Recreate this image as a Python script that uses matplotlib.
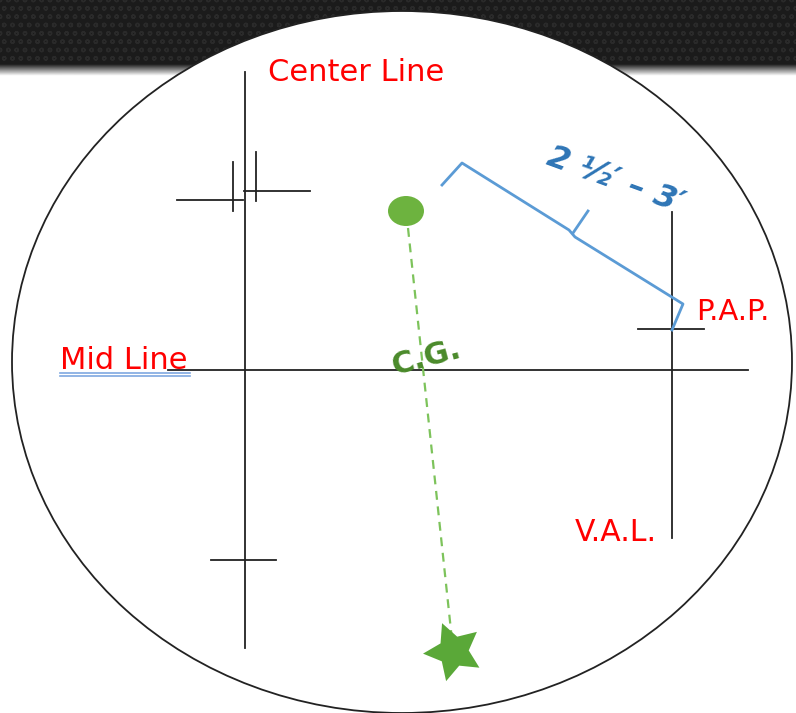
import numpy as np
import matplotlib.pyplot as plt
from matplotlib.patches import Ellipse, Rectangle

# Rozmiar obrazka w pikselach
W, H = 796, 713

# Okrąg (elipsa) celownika: środek, szerokość, wysokość
ring = (402, 362, 780, 702)

# Linie czarne: (x0, y0, x1, y1)
black_lines = [
    (245, 72, 245, 648),    # Center Line
    (168, 370, 748, 370),   # Mid Line
    (177, 200, 243, 200),
    (244, 191, 310, 191),
    (233, 162, 233, 211),
    (256, 152, 256, 201),
    (211, 560, 276, 560),
    (672, 212, 672, 538),   # V.A.L.
    (638, 329, 704, 329),   # P.A.P.
]

# Klamra 2 1/2' - 3'
brace_x = [442, 462, 569, 575, 683, 672]
brace_y = [185, 163, 230, 237, 304, 330]
tooth_x = [573, 588]
tooth_y = [233, 211]

# Punkt, linia środka ciężkości i gwiazda
dot = (406, 211)
cg_x = [408, 452]
cg_y = [228, 640]
star = (453, 651)

fig = plt.figure(figsize=(W / 100, H / 100), dpi=100)
ax = fig.add_axes([0, 0, 1, 1])
ax.set_xlim(0, W)
ax.set_ylim(H, 0)
ax.axis("off")

# Ciemny pasek u góry
ax.add_patch(Rectangle((0, 0), W, 66, facecolor="#1b1b1b", edgecolor="#2a2a2a",
                       hatch="oo", linewidth=0, zorder=0))
grad = np.linspace(0.12, 1.0, 20).reshape(-1, 1)
ax.imshow(grad, cmap="gray", vmin=0, vmax=1, extent=(0, W, 76, 64),
          aspect="auto", zorder=0.5)

ax.add_patch(Ellipse(ring[:2], ring[2], ring[3], facecolor="white",
                     edgecolor="#222222", linewidth=1.3, zorder=1))

for x0, y0, x1, y1 in black_lines:
    ax.plot([x0, x1], [y0, y1], color="#222222", lw=1.3, zorder=2)

ax.plot(brace_x, brace_y, color="#5b9bd5", lw=2, zorder=3)
ax.plot(tooth_x, tooth_y, color="#5b9bd5", lw=2, zorder=3)

ax.plot(cg_x, cg_y, color="#7dc35b", lw=1.6, dashes=(4, 3), zorder=3)
ax.add_patch(Ellipse(dot, 36, 30, facecolor="#6db33f", edgecolor="none", zorder=4))
ax.plot(*star, marker=(5, 1, 22), markersize=44, color="#5aa838",
        markeredgewidth=0, zorder=4)

red = "#ff0000"
ax.text(268, 81, "Center Line", color=red, fontsize=22, zorder=5)
ax.text(60, 369, "Mid Line", color=red, fontsize=22, zorder=5)
ax.plot([60, 190], [373, 373], color="#7fa8e0", lw=1.2, zorder=5)
ax.plot([60, 190], [376, 376], color="#7fa8e0", lw=1.2, zorder=5)
ax.text(696, 320, "P.A.P.", color=red, fontsize=21, zorder=5)
ax.text(575, 541, "V.A.L.", color=red, fontsize=21.5, zorder=5)

ax.text(426, 358, "C.G.", color="#4a8a2a", fontsize=22, fontweight="heavy",
        rotation=15, ha="center", va="center", zorder=5)
ax.text(616, 180, "2 \u00bd\u2032 \u2013 3\u2032", color="#2e75b6", fontsize=23,
        fontweight="bold", style="italic", rotation=-20,
        ha="center", va="center", zorder=5)

fig.savefig("out.png", dpi=100)
